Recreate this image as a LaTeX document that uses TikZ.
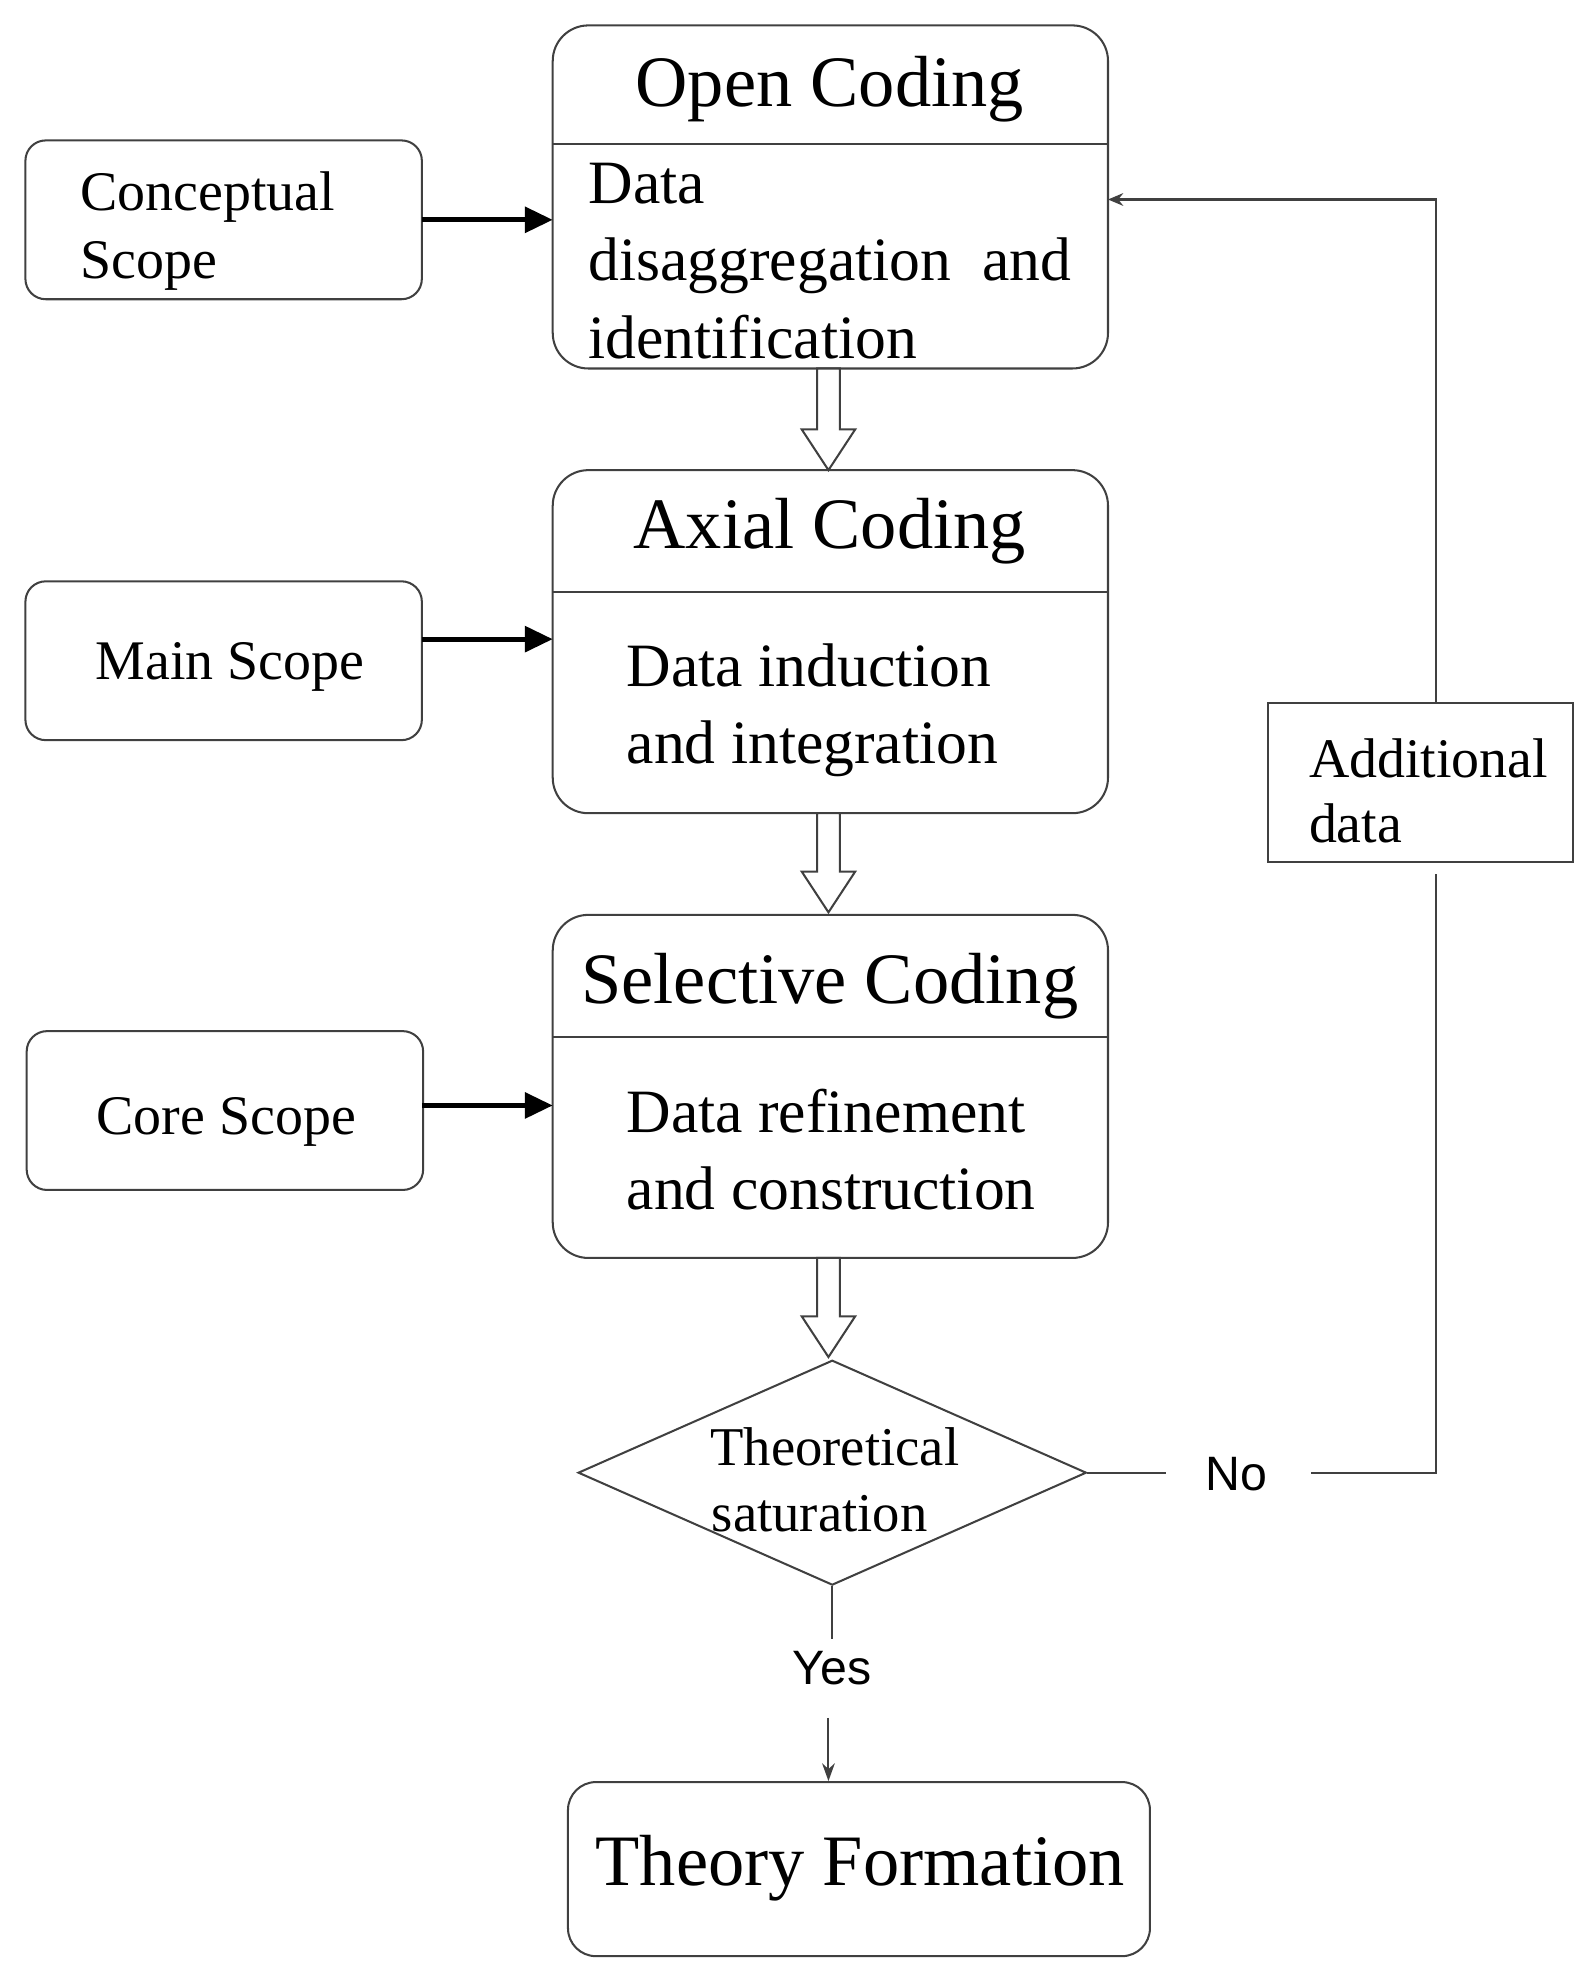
\documentclass[tikz,border=0pt]{standalone}
\usepackage{fontspec}
\setmainfont{Liberation Serif}
\newfontfamily\sansf{Liberation Sans}
\usetikzlibrary{shapes.geometric,arrows.meta}
\begin{document}
\begin{tikzpicture}[x=1pt,y=-1pt,
  box/.style={draw=black!75,line width=1.6pt,rounded corners=28pt,minimum width=437pt,minimum height=270pt,inner sep=0},
  scope/.style={draw=black!75,line width=1.6pt,rounded corners=16pt,minimum width=312pt,minimum height=125pt,inner sep=0},
  ttl/.style={font=\fontsize{57}{60}\selectfont,anchor=base,inner sep=0},
  body/.style={font=\fontsize{48.5}{52}\selectfont,anchor=base west,inner sep=0},
  sc/.style={font=\fontsize{44}{46}\selectfont,anchor=base west,inner sep=0},
  thick arr/.style={line width=4pt,-{Triangle[length=22pt,width=20pt]}},
  thin/.style={draw=black!75,line width=1.6pt}]
\useasboundingbox (0,0) rectangle (1253,1563);
% main boxes
\node[box] (open) at (653.5,155) {};
\draw[thin] (435,113) -- (872,113);
\node[ttl] at (653,84) {Open Coding};
\node[body] at (463,160) {Data};
\node[body] at (463,221) {disaggregation\ \ and};
\node[body] at (463,282) {identification};
\node[box] (axial) at (653.5,505) {};
\draw[thin] (435,466) -- (872,466);
\node[ttl] at (653,432) {Axial Coding};
\node[body] at (493,540) {Data induction};
\node[body] at (493,601) {and integration};
\node[box] (sel) at (653.5,855) {};
\draw[thin] (435,816) -- (872,816);
\node[ttl] at (653,790) {Selective Coding};
\node[body] at (493,891) {Data refinement};
\node[body] at (493,952) {and construction};
% scopes
\node[scope] (cs) at (176,173) {};
\node[sc] at (63,166) {Conceptual};
\node[sc] at (63,219) {Scope};
\node[scope] (ms) at (176,520) {};
\node[sc,anchor=base] at (181,535) {Main Scope};
\node[scope] (co) at (177,874) {};
\node[sc,anchor=base] at (178,893) {Core Scope};
\draw[thick arr] (332,173) -- (435,173);
\draw[thick arr] (332,503) -- (435,503);
\draw[thick arr] (332,870) -- (435,870);
% hollow arrows
\foreach \a/\b in {290/370,640/718,990/1068}{
  \draw[thin,fill=white] (643,\a) -- (661,\a) -- (661,\b-32) -- (673,\b-32) -- (652,\b) -- (631,\b-32) -- (643,\b-32) -- cycle;}
% diamond
\node[draw=black!75,line width=1.6pt,diamond,minimum width=400pt,minimum height=177pt,inner sep=0,aspect=2.26] (dec) at (655,1159) {};
\node[font=\fontsize{43}{45}\selectfont,anchor=base,inner sep=0] at (657,1153) {Theoretical};
\node[font=\fontsize{43}{45}\selectfont,anchor=base,inner sep=0] at (645,1205) {saturation};
% additional data
\node[draw=black!75,line width=1.6pt,minimum width=240pt,minimum height=125pt,inner sep=0] (add) at (1118,616) {};
\node[sc] at (1030,612) {Additional};
\node[sc] at (1030,663) {data};
\node[font=\sansf\fontsize{38}{40}\selectfont] (no) at (973,1160) {No};
\node[font=\sansf\fontsize{38}{40}\selectfont] (yes) at (655,1313) {Yes};
\coordinate (c1) at (1130,1159);
\coordinate (c2) at (1130,688);
\coordinate (c3) at (1130,553);
\coordinate (c4) at (1130,157);
\coordinate (c5) at (872,157);
\draw[thin] (dec.east) -- (918,1159);
\draw[thin] (1032,1159) -- (c1) -- (c2);
\draw[thin,-{Stealth[length=12pt,width=10pt]}] (c3) -- (c4) -- (c5);
% theory
\node[draw=black!75,line width=1.6pt,rounded corners=22pt,minimum width=458pt,minimum height=137pt,inner sep=0] (th) at (676,1471) {};
\node[font=\fontsize{57}{60}\selectfont] at (677,1470) {Theory Formation};
\draw[thin] (dec.south) -- (655,1290);
\draw[thin,-{Stealth[length=14pt,width=10pt]}] (652,1352) -- (th.north-|652,0);
\end{tikzpicture}
\end{document}
